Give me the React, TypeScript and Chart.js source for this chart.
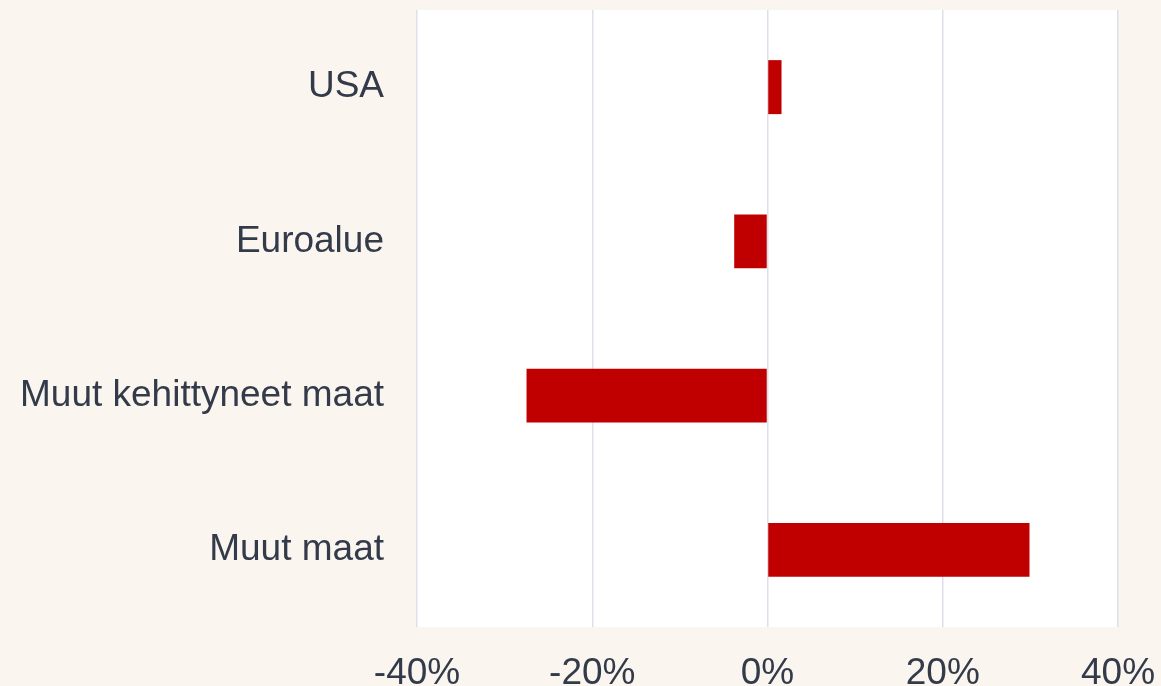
import React, { useEffect, useRef } from "react";
import { Chart, registerables } from "chart.js";

Chart.register(...registerables);

const categories = ["USA", "Euroalue", "Muut kehittyneet maat", "Muut maat"];
const values = [1.6, -3.8, -27.5, 29.9];
const xTicks = [-40, -20, 0, 20, 40];

const plotBg = {
  id: "plotBg",
  beforeDraw(chart: any) {
    const { ctx, chartArea } = chart;
    ctx.save();
    ctx.fillStyle = "#ffffff";
    ctx.fillRect(chartArea.left, chartArea.top, chartArea.right - chartArea.left, chartArea.bottom - chartArea.top);
    ctx.restore();
  },
};

function zeroPad(scale: any) {
  scale.paddingTop = 0;
  scale.paddingBottom = 0;
  scale.paddingLeft = 0;
  scale.paddingRight = 0;
}

export default function App() {
  const ref = useRef<HTMLCanvasElement>(null);
  useEffect(() => {
    document.body.style.margin = "0";
    document.body.style.background = "#faf5ef";
    const chart = new Chart(ref.current!, {
      type: "bar",
      data: {
        labels: categories,
        datasets: [
          {
            data: values,
            backgroundColor: "#c00000",
            borderWidth: 0,
            barPercentage: 0.35,
            categoryPercentage: 1,
          },
        ],
      },
      plugins: [plotBg],
      options: {
        indexAxis: "y",
        animation: false,
        responsive: false,
        layout: { padding: { top: 10, right: 43, left: 0, bottom: 0 } },
        plugins: { legend: { display: false }, tooltip: { enabled: false } },
        scales: {
          x: {
            min: -40,
            max: 40,
            afterBuildTicks(scale: any) {
              scale.ticks = xTicks.map((v) => ({ value: v }));
            },
            afterFit(scale: any) {
              scale.height = 59;
              zeroPad(scale);
            },
            ticks: {
              callback: (v: any) => `${v}%`,
              color: "#333b4a",
              font: { family: "'Liberation Sans', Arial, sans-serif", size: 37 },
              padding: 25,
              maxRotation: 0,
            },
            grid: { color: "#dde0ea", lineWidth: 1.5, drawTicks: false },
            border: { display: false },
          },
          y: {
            afterFit(scale: any) {
              scale.width = 417;
              zeroPad(scale);
            },
            ticks: {
              color: "#333b4a",
              font: { family: "'Liberation Sans', Arial, sans-serif", size: 37 },
              padding: 33,
            },
            grid: { display: false, drawTicks: false },
            border: { display: false },
          },
        },
      },
    });
    return () => chart.destroy();
  }, []);
  return <canvas ref={ref} width={1161} height={686} style={{ display: "block" }} />;
}
